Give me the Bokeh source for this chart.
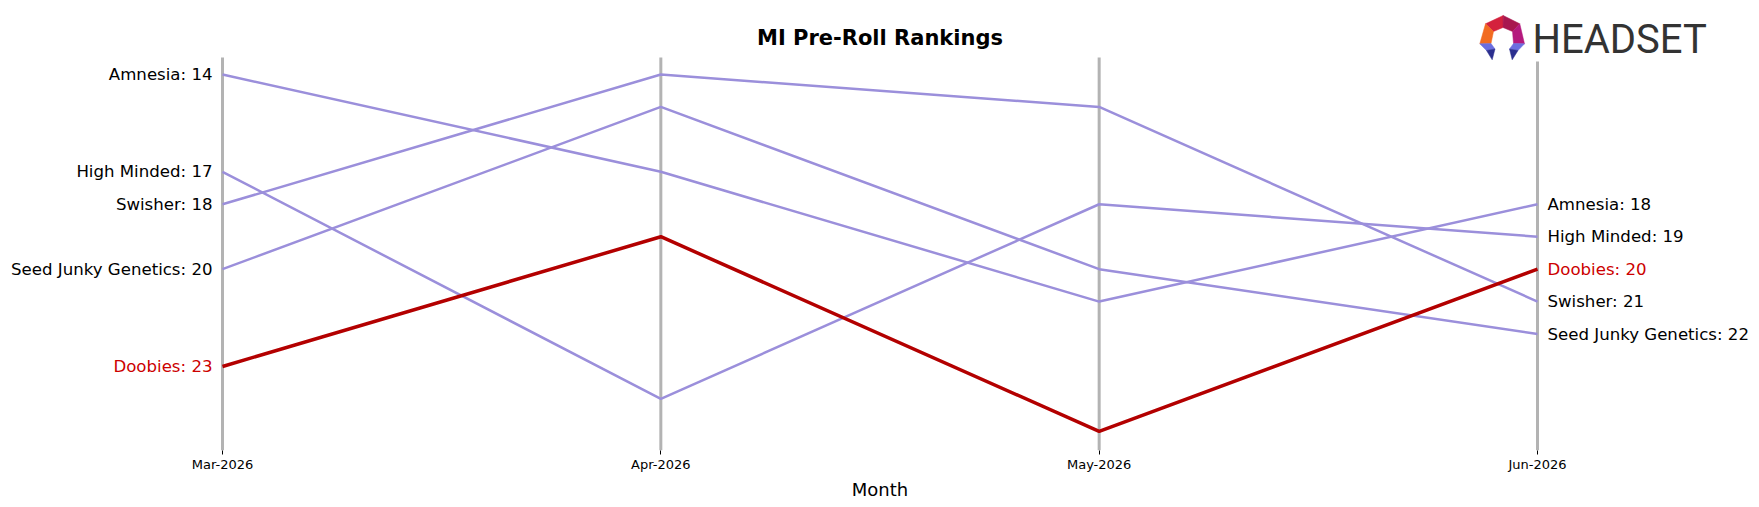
from bokeh.plotting import figure
from bokeh.models import Range1d, FixedTicker
from bokeh.core.properties import value
from bokeh.embed import file_html
from bokeh.resources import INLINE

months = ["Mar-2026", "Apr-2026", "May-2026", "Jun-2026"]
brands = ["Amnesia", "High Minded", "Swisher", "Seed Junky Genetics", "Doobies"]
amnesia = [14, 17, 21, 18]
high_minded = [17, 24, 18, 19]
swisher = [18, 14, 15, 21]
seed_junky = [20, 15, 20, 22]
doobies = [23, 19, 25, 20]
series = [amnesia, high_minded, swisher, seed_junky, doobies]
highlight = "Doobies"

W, H = 1759, 507
FRAME_H = 450
X0PX, X3PX = 222, 1537
PX_PER_X = (X3PX - X0PX) / 3.0
R14PX = 74.0
PX_PER_R = 32.44

def px2x(px):
    return (px - X0PX) / PX_PER_X

def py2y(py):
    return 14 + (py - R14PX) / PX_PER_R

p = figure(width=W, height=H, frame_width=W, frame_height=FRAME_H,
           output_backend="svg", toolbar_location=None,
           x_range=Range1d(px2x(0), px2x(W)), y_range=Range1d(py2y(FRAME_H), py2y(0)),
           min_border=0, min_border_left=0, min_border_right=0, min_border_top=0, min_border_bottom=0)
p.outline_line_color = None
p.background_fill_color = "white"
p.border_fill_color = "white"
p.yaxis.visible = False
p.xgrid.visible = False
p.ygrid.visible = False

xs = list(range(len(months)))

# vertical month lines
top_y = [py2y(57), py2y(57), py2y(57), py2y(61)]
p.segment(x0=xs, x1=xs, y0=top_y, y1=[py2y(FRAME_H)] * 4, line_color="#b3b3b3", line_width=3)

purple = "#9b8fdb"
red = "#b30000"
for name, vals in zip(brands, series):
    if name == highlight:
        continue
    p.line(xs, vals, line_color=purple, line_width=2.5)
for name, vals in zip(brands, series):
    if name == highlight:
        p.line(xs, vals, line_color=red, line_width=3.5)

font = value("DejaVu Sans")
lx, ly, lt, lc = [], [], [], []
rx, ry, rt, rc = [], [], [], []
for name, vals in zip(brands, series):
    c = "#cc0000" if name == highlight else "black"
    lx.append(0); ly.append(vals[0]); lt.append(f"{name}: {vals[0]}"); lc.append(c)
    rx.append(3); ry.append(vals[-1]); rt.append(f"{name}: {vals[-1]}"); rc.append(c)
p.text(x=lx, y=ly, text=lt, text_color=lc, text_font=font, text_font_size="16.6px",
       text_align="right", text_baseline="middle", x_offset=-10)
p.text(x=rx, y=ry, text=rt, text_color=rc, text_font=font, text_font_size="16.6px",
       text_align="left", text_baseline="middle", x_offset=10)

# title
p.text(x=[px2x(879.5)], y=[py2y(37)], text=["MI Pre-Roll Rankings"], text_font=font,
       text_font_size="21px", text_font_style="bold", text_align="center",
       text_baseline="middle", text_color="black")

# logo
def poly(pts, color):
    p.patch([px2x(a) for a, b in pts], [py2y(b) for a, b in pts], fill_color=color, line_color=color, line_width=0.5)

poly([(1485, 23.3), (1502.7, 15), (1502.5, 27), (1493, 31)], "#d4213d")
poly([(1502.7, 15), (1519.3, 23.3), (1512, 31), (1502.5, 27)], "#a8174f")
poly([(1485, 23.3), (1493, 31), (1490.5, 43), (1479.3, 43.3)], "#f26b21")
poly([(1519.3, 23.3), (1524, 43.3), (1513, 43), (1512, 31)], "#b4197d")
poly([(1479.3, 43.3), (1490.5, 43), (1494.5, 48.5), (1486, 50)], "#6b6ee0")
poly([(1486, 50), (1494.5, 48.5), (1491.7, 59.3)], "#2b2f8f")
poly([(1524, 43.3), (1513, 43), (1509, 48.5), (1517.5, 50)], "#6b6ee0")
poly([(1517.5, 50), (1509, 48.5), (1511.7, 59.3)], "#2b2f8f")
p.text(x=[px2x(1532)], y=[py2y(39)], text=["HEADSET"], text_font=value("Roboto"),
       text_font_size="40px", text_align="left", text_baseline="middle", text_color="#333333")

# x axis
ax = p.xaxis[0]
ax.ticker = FixedTicker(ticks=xs)
ax.major_label_overrides = {i: m for i, m in enumerate(months)}
ax.axis_line_color = None
ax.minor_tick_line_color = None
ax.major_tick_in = 0
ax.major_tick_out = 4
ax.major_tick_line_color = "black"
ax.major_label_text_font = "DejaVu Sans"
ax.major_label_text_font_size = "13px"
ax.major_label_text_font_style = "normal"
ax.major_label_text_color = "black"
ax.major_label_standoff = 2
ax.axis_label = "Month"
ax.axis_label_text_font = "DejaVu Sans"
ax.axis_label_text_font_size = "18px"
ax.axis_label_text_font_style = "normal"
ax.axis_label_text_color = "black"
ax.axis_label_standoff = 4

open("out.html", "w").write(file_html(p, INLINE))
